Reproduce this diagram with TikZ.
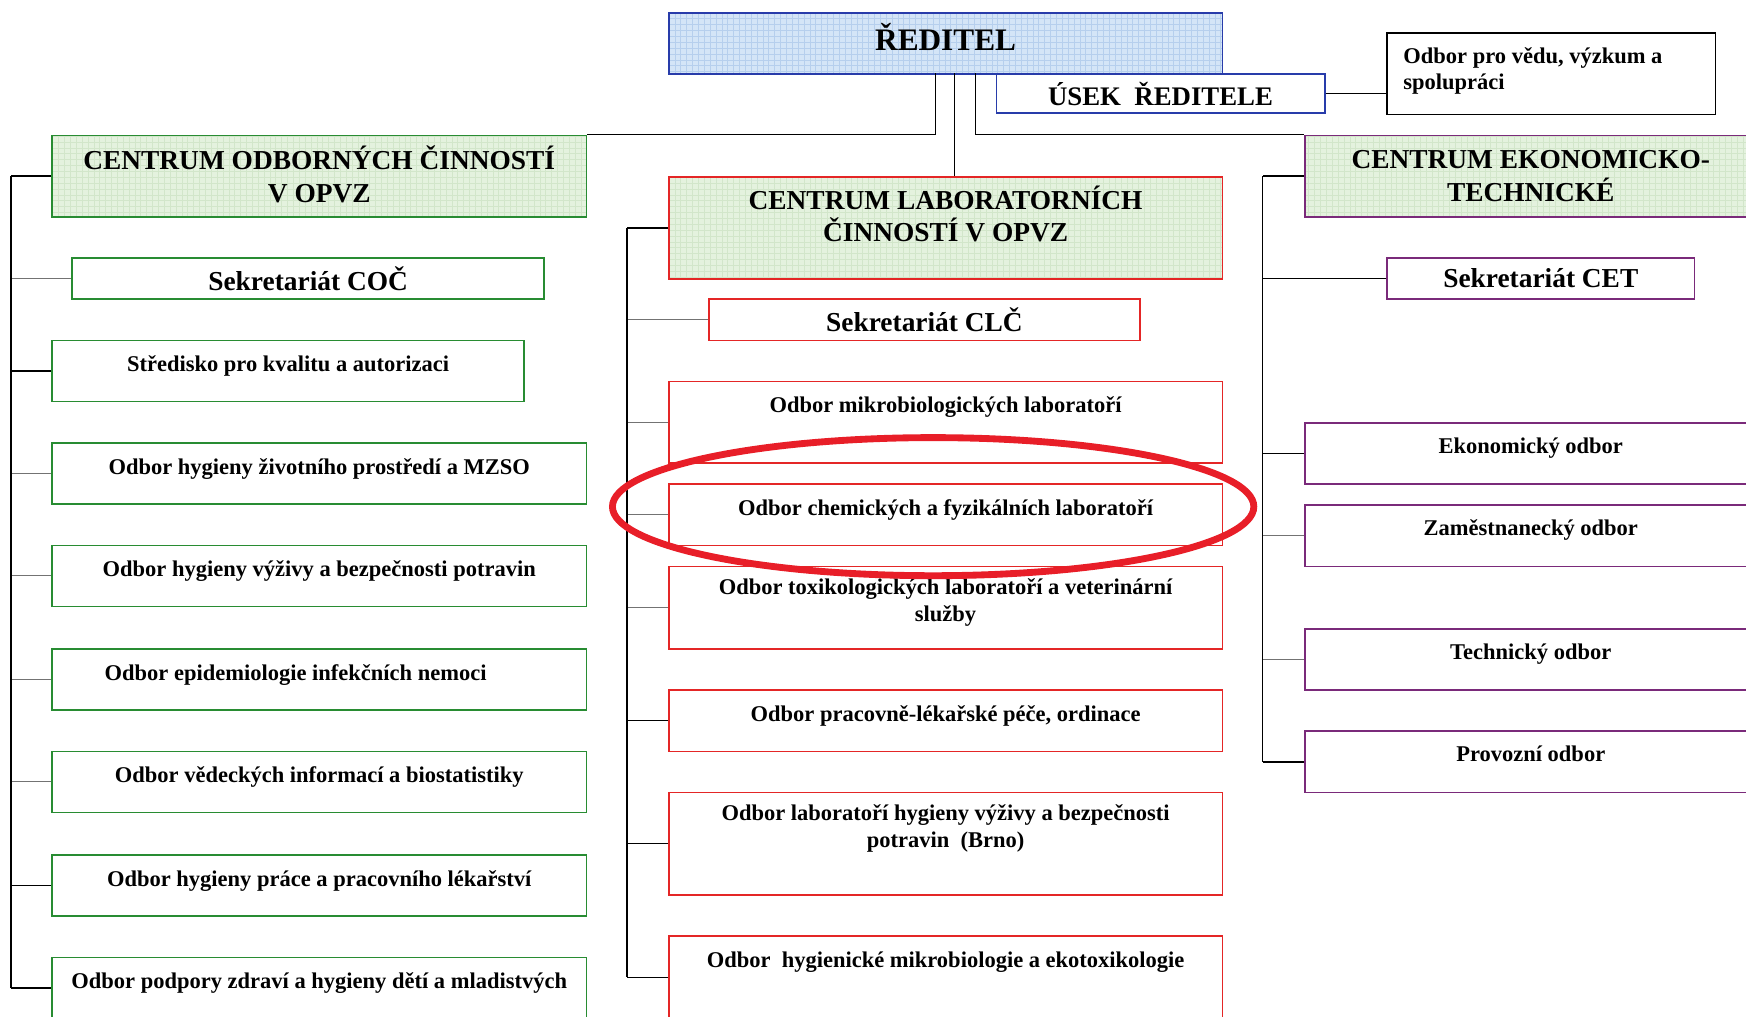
\documentclass[tikz,border=0pt]{standalone}
\usepackage{fontspec}
\setmainfont{Liberation Serif}
\usetikzlibrary{patterns}

\definecolor{coc}{RGB}{40,140,50}
\definecolor{clc}{RGB}{228,38,38}
\definecolor{cet}{RGB}{122,42,122}
\definecolor{ved}{RGB}{40,60,170}
\definecolor{grnfill}{RGB}{228,242,222}
\definecolor{grngrid}{RGB}{210,230,202}
\definecolor{bluefill}{RGB}{212,229,247}
\definecolor{bluegrid}{RGB}{182,207,237}
\definecolor{ring}{RGB}{232,30,40}

\begin{document}
\begin{tikzpicture}[x=0.02cm, y=-0.02cm,
  box/.style={draw=#1, line width=0.8pt, anchor=north west, inner sep=0pt},
  sz/.style 2 args={minimum width=#1*0.02cm, minimum height=#2*0.02cm},
  headfont/.style={font=\fontsize{14}{16.5}\selectfont\bfseries},
  secfont/.style={font=\fontsize{14}{16.5}\selectfont\bfseries},
  odfont/.style={font=\fontsize{11.5}{13.7}\selectfont\bfseries},
  headbox/.style={box=#1, preaction={fill=grnfill}, pattern=grid, pattern color=grngrid, align=center, headfont},
  lbl/.style={anchor=north, align=center, inner sep=0pt, odfont, execute at begin node=\strut},
  wire/.style={draw=black, line width=0.7pt},
  fwire/.style={draw=black!55, line width=0.5pt}]

\useasboundingbox (0,0) rectangle (1568,913);
\clip (0,0) rectangle (1568,913);

% Reditel and his office
\node[box=ved, sz={497}{55}, preaction={fill=bluefill}, pattern=grid, pattern color=bluegrid,
  text height=12pt, text depth=5.4pt, font=\fontsize{16}{19}\selectfont\bfseries] (reditel) at (600,11) {ŘEDITEL};
\node[box=ved, sz={295}{35}, fill=white, font=\fontsize{13.7}{16}\selectfont\bfseries] (usek) at (894,66) {ÚSEK\ \ ŘEDITELE};
\node[box=black, sz={295}{73}] (veda) at (1245,29) {};
\node[lbl, anchor=north west, align=left] (veda-t) at ([xshift=0.3cm, yshift=-0.26cm]veda.north west) {Odbor pro vědu, výzkum a\\spolupráci};
\draw[wire] (usek.east) -- (usek.east -| veda.west);

% the three centres
\node[headbox=coc, sz={480}{73}, text depth=2pt] (coc) at (46,121) {CENTRUM ODBORNÝCH ČINNOSTÍ\\V OPVZ};
\node[headbox=clc, sz={497}{92}] (clc) at (600,158) {};
\node[lbl, headfont] (clc-t) at ([yshift=-0.17cm]clc.north) {CENTRUM LABORATORNÍCH\\ČINNOSTÍ V OPVZ};
\node[headbox=cet, sz={406}{73}] (cet) at (1171,121) {CENTRUM EKONOMICKO-\\TECHNICKÉ};

\coordinate (r1) at (840,66);
\coordinate (r2) at (857,66);
\coordinate (r3) at (876,66);
\draw[wire] (r1) |- (coc.north east);
\draw[wire] (r2) -- (r2 |- clc.north);
\draw[wire] (r3) |- (cet.north west);

% secretariats
\node[box=coc, sz={424}{37}, secfont] (sc) at (64,231) {Sekretariát COČ};
\node[box=clc, sz={387}{37}, secfont] (sl) at (636,268) {Sekretariát CLČ};
\node[box=cet, sz={276}{37}, secfont] (se) at (1245,231) {Sekretariát CET};

% spines
\coordinate (spl) at (10,0);
\coordinate (spm) at (563,0);
\coordinate (spr) at (1134,0);

% COC departments
\foreach \n/\t/\w/\c/\txt in {
    sk/305/424/wire/Středisko pro kvalitu a autorizaci,
    zp/397/480/fwire/Odbor hygieny životního prostředí a MZSO,
    vy/489/480/fwire/Odbor hygieny výživy a bezpečnosti potravin,
    ep/582/480/fwire/Odbor epidemiologie infekčních nemoci\hspace{0.85cm},
    vi/674/480/fwire/Odbor vědeckých informací a biostatistiky,
    pr/767/480/wire/Odbor hygieny práce a pracovního lékařství,
    dm/859/480/wire/Odbor podpory zdraví a hygieny dětí a mladistvých} {
  \node[box=coc, sz={\w}{55}] (\n) at (46,\t) {};
  \node[lbl] (\n-t) at ([yshift=-0.235cm]\n.north) {\txt};
  \draw[\c] (\n.west) -- (\n.west -| spl);
}
\draw[wire] (coc.west) -- (coc.west -| spl);
\draw[fwire] (sc.west) -- (sc.west -| spl);
\draw[wire] (coc.west -| spl) -- (dm.west -| spl);

% CLC departments
\foreach \n/\t/\h/\c/\txt in {
    mi/342/73/fwire/Odbor mikrobiologických laboratoří,
    ch/434/55/fwire/Odbor chemických a fyzikálních laboratoří,
    tx/508/74/fwire/{Odbor toxikologických laboratoří a veterinární\\služby},
    pl/619/55/wire/{Odbor pracovně-lékařské péče, ordinace},
    br/711/92/wire/{Odbor laboratoří hygieny výživy a bezpečnosti\\potravin\ \ (Brno)},
    he/840/74/wire/Odbor\ \ hygienické mikrobiologie a ekotoxikologie} {
  \node[box=clc, sz={497}{\h}] (\n) at (600,\t) {};
  \node[lbl] (\n-t) at ([yshift=-0.23cm]\n.north) {\txt};
  \draw[\c] (\n.west) -- (\n.west -| spm);
}
\draw[wire] (clc.west) -- (clc.west -| spm);
\draw[fwire] (sl.west) -- (sl.west -| spm);
\draw[wire] (clc.west -| spm) -- (he.west -| spm);

% CET departments
\foreach \n/\t/\c/\txt in {
    ek/379/wire/Ekonomický odbor,
    zm/453/fwire/Zaměstnanecký odbor,
    te/564/fwire/Technický odbor,
    po/656/wire/Provozní odbor} {
  \node[box=cet, sz={406}{55}] (\n) at (1171,\t) {};
  \node[lbl] (\n-t) at ([yshift=-0.22cm]\n.north) {\txt};
  \draw[\c] (\n.west) -- (\n.west -| spr);
}
\draw[wire] (cet.west) -- (cet.west -| spr);
\draw[wire] (se.west) -- (se.west -| spr);
\draw[wire] (cet.west -| spr) -- (po.west -| spr);

% highlight
\draw[ring, line width=3.5pt] (838,455) ellipse [x radius=288, y radius=62];

\end{tikzpicture}
\end{document}
